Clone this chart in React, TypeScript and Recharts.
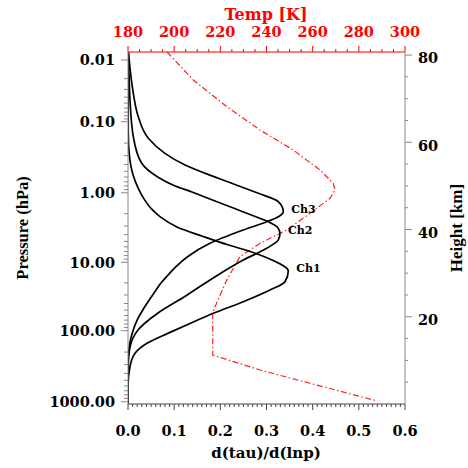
import React from "react";
import { LineChart, Line, XAxis, YAxis } from "recharts";

// 左軸の気圧ラベルと、それが置かれている高度 (km)
const pressureLabels = ["0.01", "0.10", "1.00", "10.00", "100.00", "1000.00"];
const pressureHeights = [78.86, 64.72, 48.42, 32.48, 16.8, 0.53];
const heightLabels = [20, 40, 60, 80];
const tempLabels = [180, 200, 220, 240, 260, 280, 300];
const tauLabels = [0, 0.1, 0.2, 0.3, 0.4, 0.5, 0.6];
const channelNames = ["Ch1", "Ch2", "Ch3"];

// 重み関数 (高度 km, d(tau)/d(lnp))
const ch1Km = [80.7, 62.0, 57.0, 52.5, 49.5, 46.8, 44.6, 42.9, 40.6, 38.4, 36.45, 35.2, 33.0, 30.5, 28.04, 26.13, 23.45, 20.79, 18.11, 15.59, 13.92, 11.62, 8.55, 3.97, 0];
const ch1Val = [0, 0.0006, 0.003, 0.011, 0.022, 0.036, 0.052, 0.07, 0.106, 0.163, 0.218, 0.258, 0.312, 0.3472, 0.3401, 0.3076, 0.2497, 0.1848, 0.1271, 0.0736, 0.0412, 0.0152, 0.0043, 0, 0];

const ch2Km = [80.7, 76.0, 69.69, 61.28, 55.18, 51.93, 50.09, 48.6, 46.77, 44.82, 43.44, 41.84, 40.58, 39.13, 37.6, 35.69, 33.01, 28.43, 24.53, 20.87, 16.97, 13.07, 8.94, 0];
const ch2Val = [0.0005, 0.002, 0.0043, 0.0115, 0.0297, 0.0661, 0.0996, 0.1386, 0.183, 0.231, 0.2643, 0.3034, 0.3234, 0.3292, 0.3256, 0.3004, 0.2497, 0.1776, 0.1213, 0.065, 0.0217, 0.0043, 0, 0];

const ch3Km = [80.7, 75.0, 71.23, 65.86, 60.91, 57.47, 54.79, 51.74, 48.3, 46.38, 44.09, 42.94, 41.79, 39.89, 36.84, 33.77, 31.5, 29.96, 27.67, 25.4, 23.84, 21.55, 19.26, 16.5, 13.98, 10.0, 0];
const ch3Val = [0.001, 0.0065, 0.0115, 0.0223, 0.044, 0.08, 0.1235, 0.1956, 0.2822, 0.3256, 0.3364, 0.3256, 0.3004, 0.2497, 0.1776, 0.129, 0.104, 0.09, 0.071, 0.056, 0.046, 0.032, 0.02, 0.01, 0.004, 0.0008, 0];

// 気温プロファイル (高度 km, K)
const tempKm = [80.7, 74.28, 68.16, 62.82, 58.23, 53.64, 50.6, 49.06, 47.16, 43.72, 39.89, 36.84, 33.77, 28.43, 22.31, 20.79, 11.23, 7.79, 4.75, 0.69];
const tempVal = [196.9, 208.3, 222.8, 237.2, 251.6, 263.2, 268.9, 269.7, 267.5, 258.8, 248.8, 237.2, 228.5, 222.8, 217.7, 216.7, 216.7, 237.2, 258.8, 288.0];

const toRows = (km: number[], vals: number[]) => km.map((k, i) => ({ km: k, v: vals[i] }));
const channels = [toRows(ch1Km, ch1Val), toRows(ch2Km, ch2Val), toRows(ch3Km, ch3Val)];
const tempRows = tempKm.map((k, i) => ({ km: k, t: tempVal[i] }));

// 補助目盛り
const pressureTicks: number[] = [...pressureHeights];
for (let d = 0; d < pressureHeights.length - 1; d++) {
  for (let m = 2; m <= 9; m++) {
    pressureTicks.push(pressureHeights[d] + (pressureHeights[d + 1] - pressureHeights[d]) * Math.log10(m));
  }
}
const heightTicks = Array.from({ length: 16 }, (_, i) => (i + 1) * 5);
const tempTicks = Array.from({ length: 25 }, (_, i) => 180 + i * 5);
const tauTicks = Array.from({ length: 61 }, (_, i) => i / 100);

const font = "'DejaVu Serif', serif";
const labelStyle = { fontFamily: font, fontWeight: "bold" as const, fontSize: 14.5 };

function PressureTick({ x, y, payload }: any) {
  const i = pressureHeights.indexOf(payload.value);
  const major = i >= 0;
  return (
    <g>
      <line x1={x} x2={x - (major ? 7 : 4)} y1={y} y2={y} stroke="#888" />
      {major && (
        <text x={x - 13} y={y} dy="0.36em" textAnchor="end" fill="#000" {...labelStyle}>
          {pressureLabels[i]}
        </text>
      )}
    </g>
  );
}

function HeightTick({ x, y, payload }: any) {
  const major = heightLabels.includes(payload.value);
  return (
    <g>
      <line x1={x} x2={x + (major ? 7 : 3)} y1={y} y2={y} stroke="#888" />
      {major && (
        <text x={x + 13} y={y + 3} dy="0.36em" textAnchor="start" fill="#000" {...labelStyle}>
          {payload.value}
        </text>
      )}
    </g>
  );
}

function TempTick({ x, y, payload }: any) {
  const major = tempLabels.includes(payload.value);
  return (
    <g>
      <line x1={x} x2={x} y1={y} y2={y - (major ? 6 : 3)} stroke="#ff0000" />
      {major && (
        <text x={x} y={y - 20} dy="0.36em" textAnchor="middle" fill="#ff0000" {...labelStyle}>
          {payload.value}
        </text>
      )}
    </g>
  );
}

function TauTick({ x, y, payload }: any) {
  const idx = tauLabels.findIndex((t) => Math.abs(t - payload.value) < 1e-6);
  const major = idx >= 0;
  return (
    <g>
      <line x1={x} x2={x} y1={y} y2={y + (major ? 6 : 3)} stroke="#444" />
      {major && (
        <text x={x} y={y + 27} dy="0.36em" textAnchor="middle" fill="#000" {...labelStyle}>
          {tauLabels[idx].toFixed(1)}
        </text>
      )}
    </g>
  );
}

const peakLabel = (data: { v: number }[], name: string) => {
  const peak = data.reduce((best, r, i) => (r.v > data[best].v ? i : best), 0);
  return (props: any) =>
    props.index === peak ? (
      <text x={props.x + 8} y={props.y - 3} dy="0.36em" fontFamily={font} fontWeight="bold" fontSize={11} fill="#000">
        {name}
      </text>
    ) : null;
};

export default function App() {
  return (
    <div style={{ position: "absolute", left: 0, top: 0, background: "#fff" }}>
      <LineChart
        width={468}
        height={468}
        layout="vertical"
        margin={{ top: 0, right: 0, bottom: 0, left: 0 }}
      >
        <XAxis
          xAxisId="tau"
          type="number"
          orientation="bottom"
          domain={[0, 0.6]}
          ticks={tauTicks}
          interval={0}
          height={64}
          tickSize={0}
          tickMargin={0}
          tickLine={false}
          axisLine={{ stroke: "#444" }}
          tick={TauTick}
          allowDataOverflow
        />
        <XAxis
          xAxisId="temp"
          type="number"
          orientation="top"
          domain={[180, 300]}
          ticks={tempTicks}
          interval={0}
          height={52}
          tickSize={0}
          tickMargin={0}
          tickLine={false}
          axisLine={{ stroke: "#ff0000" }}
          tick={TempTick}
          allowDataOverflow
        />
        <YAxis
          yAxisId="left"
          type="number"
          dataKey="km"
          orientation="left"
          domain={[0, 80.7]}
          reversed
          ticks={pressureTicks}
          interval={0}
          width={128}
          tickSize={0}
          tickMargin={0}
          tickLine={false}
          axisLine={{ stroke: "#888" }}
          tick={PressureTick}
          allowDataOverflow
        />
        <YAxis
          yAxisId="right"
          type="number"
          dataKey="km"
          orientation="right"
          domain={[0, 80.7]}
          reversed
          ticks={heightTicks}
          interval={0}
          width={63}
          tickSize={0}
          tickMargin={0}
          tickLine={false}
          axisLine={{ stroke: "#888" }}
          tick={HeightTick}
          allowDataOverflow
        />

        {/* 気温プロファイル (一点鎖線) */}
        <Line
          data={tempRows}
          xAxisId="temp"
          yAxisId="left"
          dataKey="t"
          type="linear"
          stroke="#ff2020"
          strokeWidth={1.2}
          strokeDasharray="6 2.5 1.5 2.5"
          dot={false}
          activeDot={false}
          isAnimationActive={false}
        />

        {channels.map((rows, i) => (
          <Line
            key={channelNames[i]}
            data={rows}
            xAxisId="tau"
            yAxisId="left"
            dataKey="v"
            type="monotone"
            stroke="#000"
            strokeWidth={1.7}
            dot={false}
            activeDot={false}
            isAnimationActive={false}
            label={peakLabel(rows, channelNames[i])}
          />
        ))}

        <text x={266} y={14} dy="0.36em" textAnchor="middle" fill="#ff0000" fontFamily={font} fontWeight="bold" fontSize={16}>
          Temp [K]
        </text>
        <text x={266} y={452.5} dy="0.36em" textAnchor="middle" fill="#000" fontFamily={font} fontWeight="bold" fontSize={15}>
          d(tau)/d(lnp)
        </text>
        <text
          x={22.5}
          y={228}
          dy="0.36em"
          textAnchor="middle"
          transform="rotate(-90 22.5 228)"
          fill="#000"
          fontFamily="'Liberation Serif', serif"
          fontWeight="bold"
          fontSize={16.5}
        >
          Pressure (hPa)
        </text>
        <text
          x={456}
          y={228}
          dy="0.36em"
          textAnchor="middle"
          transform="rotate(-90 456 228)"
          fill="#000"
          fontFamily="'Liberation Serif', serif"
          fontWeight="bold"
          fontSize={17}
        >
          Height [km]
        </text>
      </LineChart>
    </div>
  );
}
